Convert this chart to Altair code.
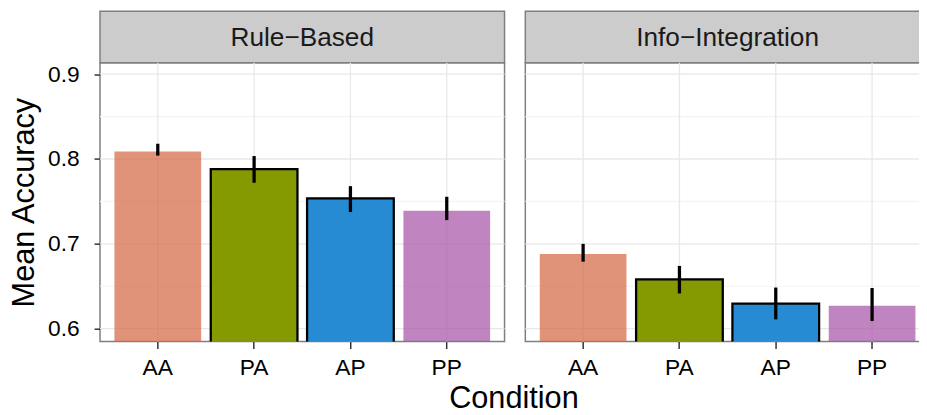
import altair as alt
import pandas as pd

conditions = ["AA", "PA", "AP", "PP"]
groups = ["Rule−Based", "Info−Integration"]

rb_mean = [0.809, 0.788, 0.7535, 0.739]
rb_lo = [0.804, 0.772, 0.7375, 0.728]
rb_hi = [0.818, 0.8035, 0.768, 0.7555]

ii_mean = [0.688, 0.658, 0.6295, 0.627]
ii_lo = [0.679, 0.6415, 0.611, 0.609]
ii_hi = [0.700, 0.674, 0.6485, 0.648]

fills = ["#D46A44", "#859900", "#268BD2", "#A854A8"]
opacities = [0.72, 1.0, 1.0, 0.72]
outline = [0, 2.3, 2.3, 0]

major_ticks = [0.6, 0.7, 0.8, 0.9]
minor_ticks = [0.65, 0.75, 0.85]

Y_DOMAIN = [0.5848, 0.9136]
PW, PH, SH = 409, 282, 52
FONT = "Liberation Sans"


def make_plot(means, los, his, left, view_w):
    df = pd.DataFrame({
        "Condition": conditions, "mean": means, "lo": los, "hi": his,
        "fill": fills, "op": opacities, "sw": outline,
    })
    xscale = alt.Scale(domain=conditions, paddingInner=0.1, paddingOuter=0.15,
                       range=[0, PW])
    yscale = alt.Scale(domain=Y_DOMAIN, zero=False, nice=False)

    if left:
        yaxis = alt.Axis(values=major_ticks, format=".1f", grid=False, domain=False,
                         tickSize=6, tickColor="#333333", tickWidth=1.5,
                         labelFontSize=23, labelColor="black", labelPadding=15,
                         labelFont=FONT, title="Mean Accuracy", titleFont=FONT,
                         titleFontSize=31, titleFontWeight="normal", titleColor="black",
                         titlePadding=7)
        xaxis = alt.Axis(grid=False, domain=False, tickSize=7, tickColor="#333333",
                         tickWidth=1.5, labelFontSize=23, labelColor="black",
                         labelFont=FONT, labelPadding=8, labelAngle=0,
                         title="Condition", titleFont=FONT, titleFontSize=31,
                         titleFontWeight="normal", titleColor="black",
                         titleX=418, titlePadding=5)
    else:
        yaxis = None
        xaxis = alt.Axis(grid=False, domain=False, tickSize=7, tickColor="#333333",
                         tickWidth=1.5, labelFontSize=23, labelColor="black",
                         labelFont=FONT, labelPadding=8, labelAngle=0, title=None)

    base = alt.Chart(df)
    minor = alt.Chart(pd.DataFrame({"v": minor_ticks})).mark_rule(
        color="#F4F4F4", strokeWidth=1.2).encode(y=alt.Y("v:Q", scale=yscale, axis=yaxis))
    major = alt.Chart(pd.DataFrame({"v": major_ticks})).mark_rule(
        color="#E8E8E8", strokeWidth=1.3).encode(y=alt.Y("v:Q", scale=yscale))
    vgrid = base.mark_rule(color="#E8E8E8", strokeWidth=1.3).encode(
        x=alt.X("Condition:N", scale=xscale, axis=xaxis, sort=conditions))
    bars = base.mark_bar(clip=True, stroke="black").encode(
        x=alt.X("Condition:N", scale=xscale, sort=conditions),
        y=alt.Y("mean:Q", scale=yscale),
        y2=alt.datum(0.5),
        fill=alt.Fill("fill:N", scale=None),
        fillOpacity=alt.FillOpacity("op:Q", scale=None),
        strokeWidth=alt.StrokeWidth("sw:Q", scale=None),
    )
    errs = base.mark_rule(color="black", strokeWidth=3.3).encode(
        x=alt.X("Condition:N", scale=xscale, sort=conditions),
        y=alt.Y("lo:Q", scale=yscale),
        y2="hi:Q",
    )
    return alt.layer(minor, major, vgrid, bars, errs).properties(width=view_w, height=PH)


def make_strip(name, view_w):
    return alt.Chart(pd.DataFrame({"g": [name]})).mark_text(
        font=FONT, fontSize=26.5, color="#1A1A1A", baseline="middle", align="center"
    ).encode(
        text="g:N", x=alt.value(PW / 2), y=alt.value(SH / 2 + 1)
    ).properties(width=view_w, height=SH,
                 view=alt.ViewBackground(fill="#CCCCCC", stroke="#7F7F7F", strokeWidth=1.5))


RW = 409
chart = alt.concat(
    make_strip(groups[0], PW), make_strip(groups[1], RW),
    make_plot(rb_mean, rb_lo, rb_hi, True, PW), make_plot(ii_mean, ii_lo, ii_hi, False, RW),
    columns=2, spacing={"row": 0, "column": 21}, bounds="flush", align="each",
).properties(
    padding={"left": 0, "top": 0, "right": -13, "bottom": 0}
).configure_view(
    stroke="#7F7F7F", strokeWidth=1.5
)

chart.save("out.html", embed_options={"renderer": "svg", "actions": False})
